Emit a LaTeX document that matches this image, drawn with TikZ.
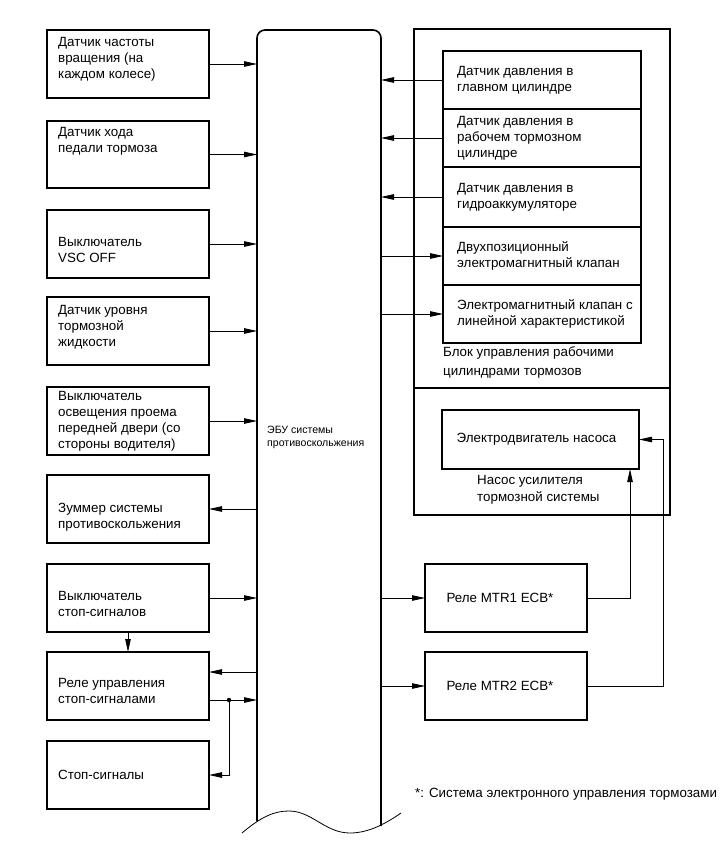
\documentclass[tikz,border=0pt]{standalone}
\usepackage{fontspec}
\setmainfont{Liberation Sans}
\usetikzlibrary{arrows.meta,calc}
\begin{document}
\begin{tikzpicture}[x=1bp,y=-1bp,
 box/.style={draw, line width=1.2bp, anchor=north west, inner sep=0pt, outer sep=0pt},
 lbox/.style={box, minimum width=162bp, minimum height=68bp},
 rbox/.style={box, minimum width=198bp},
 txt/.style={align=left, anchor=west, inner sep=0pt, font=\fontsize{13.4}{16}\selectfont},
 arr/.style={line width=0.8bp, -{Triangle[length=13bp,width=5.5bp]}},
 ln/.style={line width=0.8bp}]
\useasboundingbox (0,0) rectangle (722,855);

% ECU
\coordinate (ecuL) at (257,0);
\coordinate (ecuR) at (381,0);
\draw[line width=1.6bp, rounded corners=8bp] (257,821) -- (257,30) -- (381,30) -- (381,826);
\draw[ln] (242,833) .. controls (262,816) and (275,811) .. (289,811) .. controls (312,811) and (325,833) .. (350,833) .. controls (370,833) and (388,822) .. (401,813);
\node[anchor=west, align=left, inner sep=0pt, font=\fontsize{10.6}{13}\selectfont] (ecutxt) at (267,437) {ЭБУ системы\\противоскольжения};

% left boxes
\node[lbox] (b1) at (47,30) {};
\node[lbox, minimum height=67bp] (b2) at (47,121) {};
\node[lbox] (b3) at (47,210) {};
\node[lbox] (b4) at (47,297) {};
\node[lbox] (b5) at (47,387) {};
\node[lbox] (b6) at (47,475) {};
\node[lbox] (b7) at (47,564) {};
\node[lbox] (b8) at (47,652) {};
\node[lbox] (b9) at (47,741) {};

\node[txt] (t1) at ([xshift=11bp,yshift=5bp]b1.west) {Датчик частоты\\вращения (на\\каждом колесе)};
\node[txt] (t2) at ([xshift=11bp,yshift=13bp]b2.west) {Датчик хода\\педали тормоза};
\node[txt] (t3) at ([xshift=11bp,yshift=-6bp]b3.west) {Выключатель\\VSC OFF};
\node[txt] (t4) at ([xshift=11bp,yshift=4bp]b4.west) {Датчик уровня\\тормозной\\жидкости};
\node[txt] (t5) at ([xshift=11bp]b5.west) {Выключатель\\освещения проема\\передней двери (со\\стороны водителя)};
\node[txt] (t6) at ([xshift=11bp,yshift=-8bp]b6.west) {Зуммер системы\\противоскольжения};
\node[txt] (t7) at ([xshift=11bp,yshift=-6bp]b7.west) {Выключатель\\стоп-сигналов};
\node[txt] (t8) at ([xshift=11bp,yshift=-5bp]b8.west) {Реле управления\\стоп-сигналами};
\node[txt] (t9) at ([xshift=11bp]b9.west) {Стоп-сигналы};

% left connectors
\foreach \b in {b1,b2,b3,b4,b5,b7}{\draw[arr] (\b.east) -- (\b.east -| ecuL);}
\draw[arr] (b6.east -| ecuL) -- (b6.east);
\draw[arr] (b7.south) -- (b8.north);
\draw[arr] ([yshift=14bp]b8.east -| ecuL) -- ([yshift=14bp]b8.east);
\draw[arr] ([yshift=-14bp]b8.east) -- ([yshift=-14bp]b8.east -| ecuL);
\coordinate (dot) at ([xshift=20bp,yshift=-14bp]b8.east);
\fill (dot) circle (2.2bp);
\draw[arr] (dot) -- (dot |- b9.east) -- (b9.east);

% right block
\node[box, minimum width=256bp, minimum height=486bp] (blk) at (414,29) {};
\coordinate (sep) at (0,388);
\draw[line width=1.2bp] (blk.west |- sep) -- (blk.east |- sep);

\node[rbox, minimum height=58bp] (r1) at (443,51) {};
\node[rbox, minimum height=58bp] (r2) at (443,109) {};
\node[rbox, minimum height=60bp] (r3) at (443,167) {};
\node[rbox, minimum height=58bp] (r4) at (443,227) {};
\node[rbox, minimum height=58bp] (r5) at (443,285) {};

\node[txt] (tr1) at ([xshift=14bp]r1.west) {Датчик давления в\\главном цилиндре};
\node[txt] (tr2) at ([xshift=14bp]r2.west) {Датчик давления в\\рабочем тормозном\\цилиндре};
\node[txt] (tr3) at ([xshift=14bp]r3.west) {Датчик давления в\\гидроаккумуляторе};
\node[txt] (tr4) at ([xshift=14bp]r4.west) {Двухпозиционный\\электромагнитный клапан};
\node[txt] (tr5) at ([xshift=14bp]r5.west) {Электромагнитный клапан с\\линейной характеристикой};
\node[txt, anchor=north west, font=\fontsize{13.4}{19}\selectfont] (cap1) at (443,347) {Блок управления рабочими\\цилиндрами тормозов};

\node[box, minimum width=197bp, minimum height=59bp] (pump) at (442,410) {};
\node[txt, anchor=center] (tp) at ([xshift=-4bp]pump.center) {Электродвигатель насоса};
\node[txt, anchor=north west, font=\fontsize{13.4}{17}\selectfont] (cap2) at (477,475) {Насос усилителя\\тормозной системы};

\node[lbox] (m1) at (425,564) {};
\node[lbox] (m2) at (425,652) {};
\node[txt, anchor=center] (tm1) at ([xshift=-6bp]m1.center) {Реле MTR1 ECB*};
\node[txt, anchor=center] (tm2) at ([xshift=-6bp]m2.center) {Реле MTR2 ECB*};

% right connectors
\foreach \r in {r1,r2,r3}{\draw[arr] (\r.west) -- (\r.west -| ecuR);}
\foreach \r in {r4,r5,m1,m2}{\draw[arr] (\r.west -| ecuR) -- (\r.west);}
\coordinate (p1) at (630,0);
\coordinate (p2) at (663,0);
\draw[arr] (m1.east) -- (m1.east -| p1) -- (pump.south -| p1);
\draw[arr] (m2.east) -- (m2.east -| p2) -- (pump.east -| p2) -- (pump.east);

\node[anchor=west, inner sep=0pt, font=\fontsize{13.4}{16}\selectfont] (fn) at (415,794) {*: Система электронного управления тормозами};
\end{tikzpicture}
\end{document}
